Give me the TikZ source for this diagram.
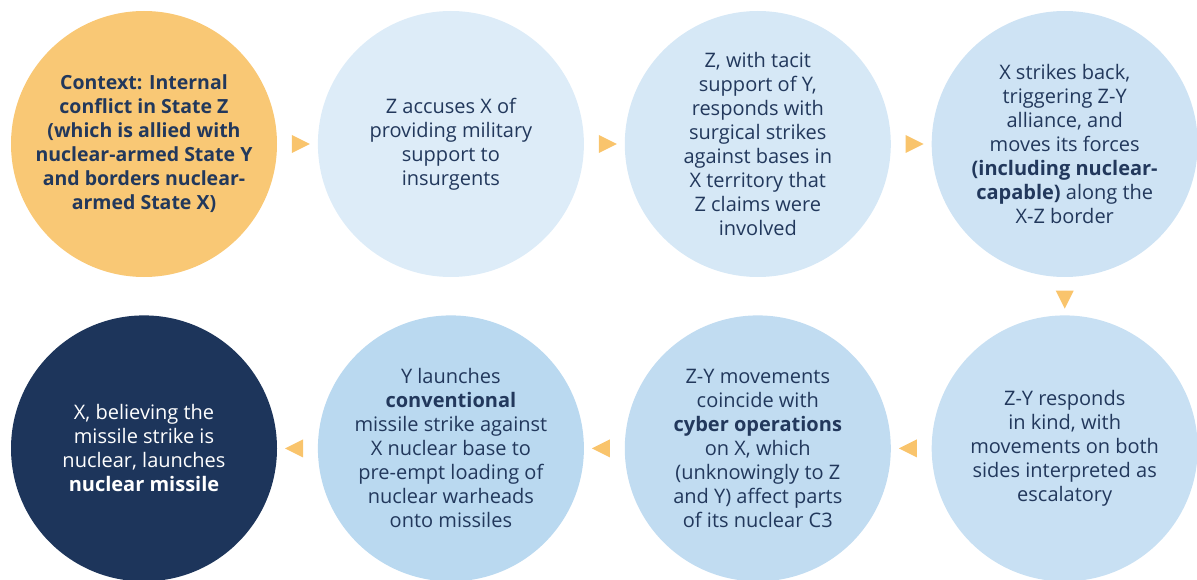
\documentclass[tikz,border=0pt]{standalone}
\usepackage{fontspec}
\setmainfont{Open Sans}
\usepackage{tikz}
\usetikzlibrary{shapes.geometric,positioning}
\definecolor{inktext}{HTML}{22385C}
\definecolor{ctxorange}{HTML}{F9C875}
\definecolor{arroworange}{HTML}{F9C46C}
\definecolor{stageA}{HTML}{DDECF8}
\definecolor{stageB}{HTML}{D6E8F6}
\definecolor{stageC}{HTML}{CEE3F4}
\definecolor{stageD}{HTML}{C8E0F3}
\definecolor{stageE}{HTML}{C1DCF1}
\definecolor{stageF}{HTML}{BAD9F0}
\definecolor{navy}{HTML}{1D355B}

\begin{document}
\begin{tikzpicture}[
        x=1pt, y=-1pt,
        node distance=38pt and 40.5pt,
        font=\fontsize{20}{24}\selectfont,
        stage/.style={
            circle,
            minimum size=266pt,
            inner sep=0pt,
            align=center,
            text=inktext
        },
        start/.style={
            stage,
            fill=ctxorange,
            font=\fontsize{19.5}{24}\selectfont\bfseries
        },
        final/.style={
            stage,
            fill=navy,
            text=white
        },
        pointer/.style={
            isosceles triangle,
            isosceles triangle stretches,
            fill=arroworange,
            inner sep=0pt,
            minimum width=18pt,
            minimum height=18pt,
            sloped,
            allow upside down
        }
    ]

    \useasboundingbox (0,0) rectangle (1197,580);

    % Top row
    \node [start] (context) at (144,144) {Context: Internal\\conflict in State Z\\(which is allied with\\nuclear-armed State Y\\and borders nuclear-\\armed State X)};
    \node [stage, fill=stageA, right=of context] (accuse) {Z accuses X of\\providing military\\support to\\insurgents};
    \node [stage, fill=stageB, right=of accuse] (surgical) {Z, with tacit\\support of Y,\\responds with\\surgical strikes\\against bases in\\X territory that\\Z claims were\\involved};
    \node [stage, fill=stageC, right=of surgical] (strike) {X strikes back,\\triggering Z-Y\\alliance, and\\moves its forces\\\textbf{(including nuclear-}\\\textbf{capable)} along the\\X-Z border};

    % Bottom row
    \node [stage, fill=stageD, below=of strike] (respond) {Z-Y responds\\in kind, with\\movements on both\\sides interpreted as\\escalatory};
    \node [stage, fill=stageE, left=of respond] (cyber) {Z-Y movements\\coincide with\\\textbf{cyber operations}\\on X, which\\(unknowingly to Z\\and Y) affect parts\\of its nuclear C3};
    \node [stage, fill=stageF, left=of cyber] (launch) {Y launches\\\textbf{conventional}\\missile strike against\\X nuclear base to\\pre-empt loading of\\nuclear warheads\\onto missiles};
    \node [final, left=of launch] (nuclear) {X, believing the\\missile strike is\\nuclear, launches\\\textbf{nuclear missile}};

    % Connections
    \path (context) -- node [pointer] {} (accuse);
    \path (accuse) -- node [pointer] {} (surgical);
    \path (surgical) -- node [pointer] {} (strike);
    \path (strike) -- node [pointer] {} (respond);
    \path (respond) -- node [pointer] {} (cyber);
    \path (cyber) -- node [pointer] {} (launch);
    \path (launch) -- node [pointer] {} (nuclear);

\end{tikzpicture}
\end{document}
